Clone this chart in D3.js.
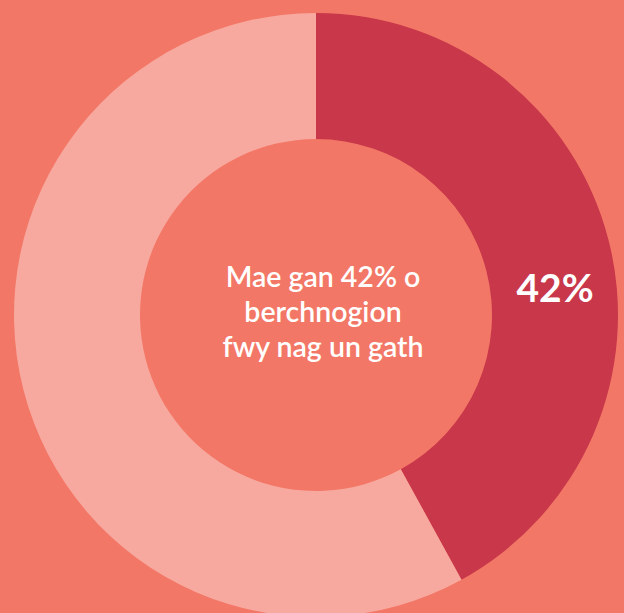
<!DOCTYPE html>
<html>
<head>
<meta charset="utf-8">
<script src="https://cdn.jsdelivr.net/npm/d3@7"></script>
<style>
  body { margin: 0; background: #F37766; }
  svg { display: block; }
</style>
</head>
<body>
<script>
// data
var labels = ["Mwy nag un gath", "Un gath"];
var values = [42, 58];
var colors = ["#C8374A", "#F7A99F"];
var centerLines = ["Mae gan 42% o", "berchnogion", "fwy nag un gath"];

var w = 624;
var h = 613;
var cx = 316, cy = 315;
var outerR = 302, innerR = 176;

var svg = d3.select("body")
    .append("svg")
    .attr("width", w)
    .attr("height", h);

svg.append("rect")
    .attr("width", w)
    .attr("height", h)
    .attr("fill", "#F37766");

var pie = d3.pie().sort(null).value(function (d) { return d; });
var arc = d3.arc().innerRadius(innerR).outerRadius(outerR);

var g = svg.append("g")
    .attr("transform", "translate(" + cx + "," + cy + ")");

var arcs = pie(values);

g.selectAll("path")
    .data(arcs)
    .enter()
    .append("path")
    .attr("d", arc)
    .attr("fill", function (d, i) { return colors[i]; });

// percentage label on the dark slice
g.append("text")
    .attr("x", (innerR + outerR) / 2)
    .attr("y", -13)
    .attr("text-anchor", "middle")
    .attr("fill", "white")
    .style("font-family", "Lato, 'Open Sans', sans-serif")
    .style("font-weight", "bold")
    .style("font-size", "39px")
    .text(values[0] + "%");

// centre text
g.selectAll(".centerText")
    .data(centerLines)
    .enter()
    .append("text")
    .attr("class", "centerText")
    .attr("x", 7)
    .attr("y", function (d, i) { return -28 + i * 35; })
    .attr("text-anchor", "middle")
    .attr("fill", "white")
    .style("font-family", "Lato, 'Open Sans', sans-serif")
    .style("font-weight", "600")
    .style("font-size", "28.5px")
    .text(function (d) { return d; });
</script>
</body>
</html>
